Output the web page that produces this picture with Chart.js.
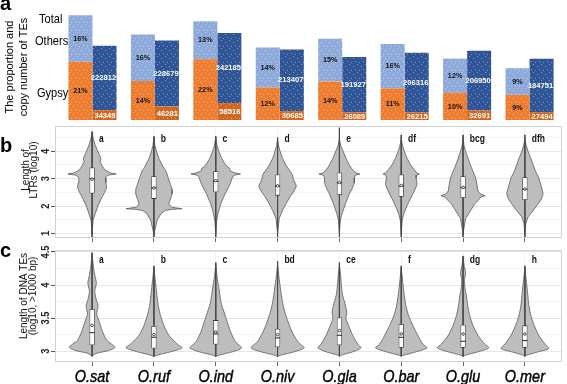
<!DOCTYPE html>
<html><head><meta charset="utf-8">
<script src="https://cdn.jsdelivr.net/npm/chart.js@4.4.1/dist/chart.umd.min.js"></script>
<style>
html,body{margin:0;padding:0;background:#fff;}
#wrap{position:relative;width:567px;height:384px;overflow:hidden;background:#fff;}
canvas{position:absolute;left:0;}
</style></head><body>
<div id="wrap">
<canvas id="ca" width="567" height="122" style="top:0px;width:567px;height:122px"></canvas>
<canvas id="cb" width="567" height="124" style="top:121px;width:567px;height:124px"></canvas>
<canvas id="cc" width="567" height="139" style="top:245px;width:567px;height:139px"></canvas>
</div>
<script>
// ---------- DATA ----------
const species = ['O.sat','O.ruf','O.ind','O.niv','O.gla','O.bar','O.glu','O.mer'];
// panel a: proportions (%) and copy numbers
const gypsyPct  = [20.6, 13.8, 21.5, 11.5, 13.6, 11.2, 9.6, 8.9];
const othersPct = [16.4, 16.4, 13.4, 14.1, 15.1, 15.7, 12.1, 9.4];
const gypsyCount  = [34349, 46281, 58516, 30685, 26089, 26215, 32691, 27494];
const othersCount = [222812, 228679, 242185, 213407, 191927, 206316, 206950, 184751];
// panel b: LTR length (log10) violins: levels and half-widths
const ltrLevels = [
 [4.69,4.45,4.21,4.09,3.92,3.74,3.62,3.44,3.30,3.21,3.17,3.13,3.03,2.85,2.67,2.50,2.32,2.02,1.73,1.49,1.01],
 [4.51,4.21,3.98,3.74,3.50,3.38,3.32,3.15,2.97,2.79,2.61,2.44,2.26,2.08,1.96,1.92,1.90,1.88,1.84,1.73,1.49,1.13,0.95],
 [4.51,4.21,3.98,3.74,3.50,3.38,3.27,3.21,3.17,3.13,3.03,2.85,2.67,2.44,2.08,1.73,1.49,1.01],
 [4.45,4.21,3.98,3.74,3.50,3.32,3.15,2.97,2.73,2.55,2.38,2.14,1.84,1.55,1.01],
 [4.45,4.21,3.98,3.74,3.50,3.32,3.21,3.17,3.13,3.03,2.85,2.67,2.44,2.08,1.73,1.49,1.01],
 [4.45,4.21,3.98,3.74,3.50,3.32,3.21,3.17,3.13,3.03,2.79,2.61,2.44,2.08,1.73,1.49,1.01],
 [4.45,4.21,3.98,3.74,3.50,3.27,3.03,2.79,2.55,2.44,2.38,2.32,2.26,2.08,1.78,1.55,1.01],
 [4.45,4.21,3.98,3.74,3.50,3.27,3.03,2.79,2.61,2.44,2.26,2.08,1.84,1.61,1.37,1.01]
];
const ltrWidths = [
 [0,0.021,0.053,0.075,0.107,0.144,0.128,0.171,0.214,0.30,0.392,0.26,0.214,0.224,0.235,0.203,0.160,0.096,0.053,0.016,0],
 [0,0.016,0.043,0.080,0.134,0.160,0.187,0.214,0.240,0.267,0.294,0.294,0.267,0.240,0.28,0.40,0.452,0.30,0.187,0.118,0.053,0.016,0],
 [0,0.021,0.053,0.096,0.160,0.224,0.240,0.32,0.40,0.30,0.267,0.240,0.203,0.150,0.080,0.037,0.016,0],
 [0,0.016,0.043,0.080,0.134,0.187,0.240,0.256,0.305,0.267,0.214,0.150,0.080,0.027,0],
 [0,0.021,0.064,0.107,0.160,0.214,0.27,0.331,0.26,0.240,0.240,0.214,0.160,0.096,0.043,0.016,0],
 [0,0.021,0.053,0.096,0.150,0.214,0.25,0.294,0.25,0.240,0.256,0.224,0.187,0.107,0.043,0.016,0],
 [0,0.016,0.043,0.080,0.118,0.160,0.203,0.224,0.240,0.28,0.358,0.28,0.267,0.187,0.107,0.043,0],
 [0,0.021,0.053,0.096,0.134,0.171,0.224,0.256,0.278,0.294,0.267,0.214,0.134,0.053,0.016,0]
];
const ltrQ1     = [2.46, 2.26, 2.50, 2.38, 2.40, 2.34, 2.29, 2.22];
const ltrQ3     = [3.41, 3.09, 3.27, 3.15, 3.23, 3.15, 3.09, 3.05];
const ltrMedian = [3.00, 2.67, 2.91, 2.73, 2.85, 2.73, 2.67, 2.61];
const ltrMean   = [2.98, 2.66, 2.93, 2.74, 2.86, 2.75, 2.68, 2.62];
const ltrMax    = [4.72, 4.55, 4.55, 4.50, 4.86, 4.60, 4.60, 4.60];
const ltrMin    = [0.86, 0.86, 0.86, 0.86, 0.86, 0.86, 0.86, 0.86];
const ltrLetters = ['a','b','c','d','e','df','bcg','dfh'];
// panel c: DNA TE length (log10, >1000 bp)
const dnaLevels = [
 [4.46,4.28,4.13,4.03,3.91,3.79,3.69,3.56,3.44,3.29,3.16,3.06,3.01,2.97,2.93],
 [4.26,4.08,3.89,3.69,3.54,3.39,3.24,3.11,3.05,2.99,2.94,2.92],
 [4.31,4.13,3.94,3.74,3.59,3.44,3.29,3.14,3.05,2.99,2.94,2.92],
 [4.33,4.13,3.94,3.74,3.59,3.44,3.29,3.14,3.05,2.99,2.94,2.92],
 [4.31,4.18,3.99,3.84,3.74,3.59,3.49,3.36,3.24,3.11,3.05,2.99,2.94,2.93],
 [4.26,4.08,3.89,3.69,3.54,3.39,3.24,3.11,3.05,2.99,2.94,2.93],
 [4.41,4.28,4.18,4.08,3.94,3.84,3.69,3.54,3.39,3.24,3.11,3.05,2.99,2.94,2.92],
 [4.26,4.08,3.89,3.69,3.54,3.39,3.24,3.11,3.04,2.99,2.94,2.93]
];
const dnaWidths = [
 [0,0.021,0.048,0.069,0.043,0.064,0.096,0.075,0.118,0.171,0.240,0.37,0.267,0.08,0],
 [0,0.021,0.043,0.069,0.107,0.160,0.240,0.374,0.454,0.267,0.053,0],
 [0,0.021,0.053,0.085,0.134,0.187,0.240,0.321,0.417,0.267,0.053,0],
 [0,0.021,0.048,0.080,0.118,0.171,0.235,0.33,0.43,0.267,0.053,0],
 [0,0.016,0.032,0.053,0.085,0.118,0.107,0.160,0.214,0.294,0.347,0.214,0.027,0],
 [0,0.021,0.043,0.075,0.118,0.187,0.267,0.347,0.417,0.240,0.043,0],
 [0,0.021,0.043,0.021,0.032,0.053,0.075,0.107,0.160,0.240,0.347,0.417,0.240,0.043,0],
 [0,0.021,0.043,0.064,0.096,0.150,0.224,0.321,0.385,0.214,0.032,0]
];
const dnaQ1     = [3.09, 3.04, 3.10, 3.06, 3.09, 3.05, 3.05, 3.05];
const dnaQ3     = [3.64, 3.38, 3.47, 3.34, 3.51, 3.41, 3.40, 3.39];
const dnaMedian = [3.28, 3.21, 3.26, 3.20, 3.24, 3.21, 3.15, 3.16];
const dnaMean   = [3.39, 3.25, 3.29, 3.25, 3.31, 3.26, 3.26, 3.26];
const dnaMax    = [4.49, 4.29, 4.34, 4.36, 4.34, 4.29, 4.44, 4.29];
const dnaMin    = [2.92, 2.92, 2.92, 2.92, 2.92, 2.92, 2.92, 2.92];
const dnaLetters = ['a','b','c','bd','ce','f','dg','h'];
const ltrTicks = [1,2,3,4];
const dnaTicks = [3,3.5,4,4.5];

// ---------- helpers ----------
const FF = '"Liberation Sans", Arial, sans-serif';
function txt(ctx, s, x, y, font, color, align, baseline, sx, rot, stroke){
  ctx.save(); ctx.translate(x,y); if(rot) ctx.rotate(rot); ctx.scale(sx||1,1);
  ctx.font=font; ctx.fillStyle=color; ctx.textAlign=align||'left'; ctx.textBaseline=baseline||'alphabetic';
  ctx.fillText(s,0,0);
  if(stroke){ ctx.strokeStyle=color; ctx.lineWidth=stroke; ctx.strokeText(s,0,0); }
  ctx.restore();
}
function dotPattern(bg, dot){
  const c=document.createElement('canvas'); c.width=8; c.height=8;
  const x=c.getContext('2d'); x.fillStyle=bg; x.fillRect(0,0,8,8);
  x.fillStyle=dot; x.fillRect(1,2,1,1); x.fillRect(5,0,1,1); x.fillRect(3,5,1,1); x.fillRect(7,6,1,1);
  return x.createPattern(c,'repeat');
}
const ctxA = document.getElementById('ca').getContext('2d');
const patOrange = dotPattern('#ed7d31','rgba(255,230,200,0.55)');
const patOrange2 = dotPattern('#d2661f','rgba(255,220,190,0.5)');
const patLight = dotPattern('#8eaadb','rgba(225,235,250,0.6)');
const patDark = dotPattern('#2f5597','rgba(200,215,245,0.55)');
const pts = arr => arr.map((v,i)=>({x:i+1,y:v}));

// ---------- panel a ----------
const aPlugin = {
  id:'aTexts',
  afterDatasetsDraw(chart){
    const ctx=chart.ctx;
    const m0=chart.getDatasetMeta(0), m1=chart.getDatasetMeta(1), m2=chart.getDatasetMeta(2), m3=chart.getDatasetMeta(3);
    const f='bold 8px '+FF;
    species.forEach((s,i)=>{
      const g=m0.data[i], o=m1.data[i], gc=m2.data[i], oc=m3.data[i];
      txt(ctx, Math.round(gypsyPct[i])+'%', g.x, (g.y+g.base)/2, f, '#111','center','middle',0.9);
      txt(ctx, Math.round(othersPct[i])+'%', o.x, (o.y+o.base)/2, f, '#111','center','middle',0.9);
      txt(ctx, String(gypsyCount[i]), gc.x+0.5, (gc.y+gc.base)/2+0.5, f, '#fff','center','middle',0.95);
      txt(ctx, String(othersCount[i]), oc.x-1, (oc.y+oc.base)/2, f, '#fff','center','middle',0.95);
    });
    const f13='13px '+FF;
    txt(ctx,'Total',39,23.3,f13,'#000','left','alphabetic',0.85);
    txt(ctx,'Others',35,45,f13,'#000','left','alphabetic',0.85);
    txt(ctx,'Gypsy',37,96.5,f13,'#000','left','alphabetic',0.85);
    txt(ctx,'The proportion and',13.2,67,'11px '+FF,'#000','center','alphabetic',1,-Math.PI/2);
    txt(ctx,'copy number of TEs',26.5,67,'11px '+FF,'#000','center','alphabetic',1,-Math.PI/2);
    txt(ctx,'a',0,10,'bold 20px '+FF,'#000','left','alphabetic');
  }
};
new Chart(ctxA,{
  type:'bar',
  data:{datasets:[
    {label:'Gypsy %', data:pts(gypsyPct), stack:'pct', yAxisID:'y', backgroundColor:patOrange},
    {label:'Others %', data:pts(othersPct), stack:'pct', yAxisID:'y', backgroundColor:patLight},
    {label:'Gypsy copies', data:pts(gypsyCount), stack:'cnt', yAxisID:'y2', backgroundColor:patOrange2},
    {label:'Others copies', data:pts(othersCount), stack:'cnt', yAxisID:'y2', backgroundColor:patDark}
  ]},
  options:{
    responsive:false, animation:false, events:[],
    layout:{padding:{left:55,right:0,top:8,bottom:2}},
    datasets:{bar:{categoryPercentage:0.77, barPercentage:1, borderWidth:0}},
    plugins:{legend:{display:false}, tooltip:{enabled:false}},
    scales:{
      x:{type:'linear', min:0.4, max:8.6, offset:false, display:false, ticks:{stepSize:1, includeBounds:false}},
      y:{type:'linear', min:0, max:39.58, stacked:true, display:false},
      y2:{type:'linear', min:0, max:387520, stacked:true, display:false}
    }
  },
  plugins:[aPlugin]
});

// ---------- violin panels ----------
function violinPts(i, Y, W){
  const c=i+1, p=[];
  for(let k=0;k<Y.length;k++) p.push({x:c+W[k], y:Y[k]});
  for(let k=Y.length-1;k>=0;k--) p.push({x:c-W[k], y:Y[k]});
  return p;
}
function makePanel(id, cfg){
  const datasets=[];
  cfg.levels.forEach((Y,i)=>{
    datasets.push({type:'line', data:violinPts(i,Y,cfg.widths[i]), fill:'shape',
      backgroundColor:'#bdbdbd', borderColor:'#5a5a5a', borderWidth:0.8, pointRadius:0, tension:cfg.tension, order:5});
  });
  const wl=[];
  cfg.max.forEach((v,i)=>{ wl.push({x:i+1,y:v}); wl.push({x:i+1,y:cfg.min[i]}); wl.push({x:i+1,y:null}); });
  datasets.push({type:'line', data:wl, borderColor:'#4a4a4a', borderWidth:1, pointRadius:0, fill:false, spanGaps:false, order:4});
  datasets.push({type:'bar', data:cfg.q1.map((q,i)=>({x:i+1,y:[q,cfg.q3[i]]})), backgroundColor:'#ffffff',
    borderColor:'#333', borderWidth:0.8, borderSkipped:false, barPercentage:0.085, categoryPercentage:1, order:3});
  datasets.push({type:'scatter', data:pts(cfg.median), pointStyle:'line', pointRadius:2.6, borderColor:'#222', borderWidth:1, order:2});
  datasets.push({type:'scatter', data:pts(cfg.mean), pointStyle:'circle', pointRadius:1.3, backgroundColor:'#ffffff', borderColor:'#222', borderWidth:0.8, order:1});

  const plug={
    id:'deco'+id,
    afterDraw(chart){
      const ctx=chart.ctx, a=chart.chartArea, xs=chart.scales.x, ys=chart.scales.y;
      ctx.save(); ctx.strokeStyle='#d2d2d2'; ctx.lineWidth=1;
      ctx.strokeRect(a.left+0.5,a.top+0.5,a.right-a.left-1,a.bottom-a.top-1); ctx.restore();
      cfg.letters.forEach((l,i)=>{
        txt(ctx,l,xs.getPixelForValue(i+1)+6.8,ys.getPixelForValue(cfg.letterY),'bold 10px '+FF,'#111','left','middle',0.85);
      });
      cfg.ticks.forEach(v=>{
        txt(ctx,String(v),48.5,ys.getPixelForValue(v),'bold 11px '+FF,'#222','center','alphabetic',0.85,-Math.PI/2);
      });
      txt(ctx,cfg.title[0],cfg.titleX[0],cfg.titleY,'10px '+FF,'#111','center','alphabetic',1,-Math.PI/2);
      txt(ctx,cfg.title[1],cfg.titleX[1],cfg.titleY,'10px '+FF,'#111','center','alphabetic',1,-Math.PI/2);
      txt(ctx,cfg.panel,0,cfg.panelY,'bold 20px '+FF,'#000','left','alphabetic');
      if(cfg.xlabels){
        species.forEach((s,i)=>{
          txt(ctx,s,xs.getPixelForValue(i+1),cfg.xlabelY,'italic 17px '+FF,'#000','center','alphabetic',0.85,0,0.45);
        });
      }
    }
  };
  new Chart(document.getElementById(id).getContext('2d'),{
    type:'line',
    data:{datasets},
    options:{
      responsive:false, animation:false, events:[],
      layout:{padding:{top:cfg.padTop,right:0,bottom:0,left:0}},
      plugins:{legend:{display:false}, tooltip:{enabled:false}},
      scales:{
        x:{type:'linear', min:0.4, max:8.6, offset:false,
           ticks:{display:false, stepSize:1, includeBounds:false},
           grid:{color:'#f1f1f1', lineWidth:1, drawTicks:true, tickLength:4, tickColor:'#666', offset:false},
           border:{display:false},
           afterFit(s){ s.height=cfg.xHeight; }},
        y:{type:'linear', min:cfg.ymin, max:cfg.ymax,
           ticks:{display:false, stepSize:cfg.step, includeBounds:false},
           grid:{color:c=>cfg.isMajor(c.tick.value)?'#e6e6e6':'#f3f3f3', drawTicks:true, tickLength:4,
                 tickColor:c=>cfg.isMajor(c.tick.value)?'#555':'rgba(0,0,0,0)'},
           border:{display:false},
           afterFit(s){ s.width=55; }}
      }
    },
    plugins:[plug]
  });
}
makePanel('cb',{
  levels:ltrLevels, widths:ltrWidths, q1:ltrQ1, q3:ltrQ3, median:ltrMedian, mean:ltrMean,
  max:ltrMax, min:ltrMin, letters:ltrLetters, letterY:4.45, ticks:ltrTicks, tension:0,
  ymin:0.832, ymax:4.925, step:0.5, isMajor:v=>Math.abs(v-Math.round(v))<1e-6,
  padTop:2, xHeight:7, title:['Length of','LTRs (log10)'], titleX:[28.5,36.5], titleY:-121+170,
  panel:'b', panelY:152-121, xlabels:false
});
makePanel('cc',{
  levels:dnaLevels, widths:dnaWidths, q1:dnaQ1, q3:dnaQ3, median:dnaMedian, mean:dnaMean,
  max:dnaMax, min:dnaMin, letters:dnaLetters, letterY:4.37, ticks:dnaTicks, tension:0.25,
  ymin:2.836, ymax:4.530, step:0.25, isMajor:v=>Math.abs(v*2-Math.round(v*2))<1e-6,
  padTop:3, xHeight:22, title:['Length of DNA TEs','(log10, >1000 bp)'], titleX:[26.5,36], titleY:296-245,
  panel:'c', panelY:257-245, xlabels:true, xlabelY:381.5-245
});
</script>
</body></html>
